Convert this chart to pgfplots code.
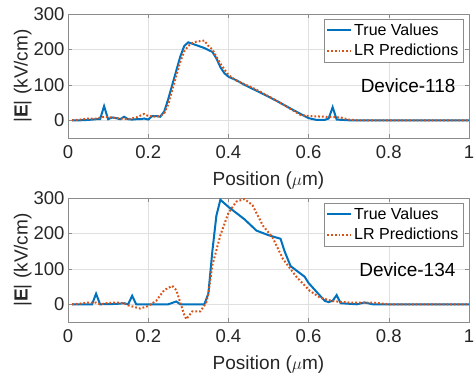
\documentclass[border=0pt]{standalone}
\usepackage{fontspec}
\setmainfont{Liberation Sans}
\usepackage{pgfplots}
\pgfplotsset{compat=1.18}
\definecolor{mblue}{rgb}{0,0.447,0.741}
\definecolor{morange}{rgb}{0.85,0.325,0.098}
\pgfplotsset{myax/.style={
  scale only axis, width=401pt, height=124pt,
  xmin=0, xmax=1, ymin=-50, ymax=300,
  xtick={0,0.2,0.4,0.6,0.8,1},
  ytick={0,100,200,300},
  grid=major, grid style={black!12, line width=0.5pt},
  axis line style={black!45}, tick style={black!45, line width=0.5pt},
  tick align=inside, major tick length=4pt,
  /pgf/number format/assume math mode=true,
  ticklabel style={font=\fontsize{18.5}{18.5}\selectfont, text=black!85},
  xticklabel style={yshift=-4pt},
  label style={font=\fontsize{19}{19}\selectfont, text=black!85},
  xlabel={Position ($\mu$m)},
  ylabel={|\textbf{E}| (kV/cm)},
  xlabel style={yshift=-6pt},
  ylabel style={yshift=-5pt},
  legend style={at={(0.985,0.96)}, anchor=north east, draw=black!45,
    font=\fontsize{16}{16}\selectfont, inner sep=2.5pt, row sep=3.5pt,
    cells={anchor=west}},
  legend image code/.code={\draw[#1] (0pt,0pt) -- (24pt,0pt);},
}}
\begin{document}
\begin{tikzpicture}
\useasboundingbox (0,0) rectangle (474pt,376pt);
\begin{axis}[myax, at={(68pt,238pt)}, anchor=south west]
\addplot[mblue, line width=2pt] coordinates {
(0.01,0) (0.03,0) (0.05,1) (0.07,3) (0.08,3) (0.09,40) (0.1,3) (0.11,8) (0.12,6) (0.13,3) (0.14,10) (0.15,3) (0.16,2) (0.17,3) (0.18,3) (0.19,5) (0.2,2) (0.21,12) (0.22,12) (0.23,10) (0.24,25) (0.25,60) (0.26,100) (0.27,140) (0.28,180) (0.29,210) (0.3,220) (0.32,212) (0.34,204) (0.36,193) (0.37,175) (0.38,150) (0.39,133) (0.4,123) (0.42,113) (0.44,100) (0.48,78) (0.52,55) (0.56,30) (0.58,18) (0.6,6) (0.62,1) (0.64,1) (0.65,5) (0.66,37) (0.67,2) (0.7,0) (1,0)};
\addlegendentry{True Values}
\addplot[morange, line width=2pt, dash pattern=on 1.8pt off 2pt] coordinates {
(0.01,0) (0.03,2) (0.05,5) (0.07,5) (0.09,10) (0.11,8) (0.13,5) (0.15,3) (0.17,8) (0.19,18) (0.2,12) (0.22,10) (0.23,12) (0.24,20) (0.25,45) (0.26,85) (0.27,125) (0.28,165) (0.29,195) (0.3,210) (0.31,218) (0.32,222) (0.34,225) (0.35,210) (0.36,200) (0.38,160) (0.4,128) (0.42,112) (0.46,92) (0.5,68) (0.54,42) (0.58,15) (0.6,12) (0.64,10) (0.68,8) (0.7,2) (0.72,0) (1,0)};
\addlegendentry{LR Predictions}
\node[anchor=east, font=\fontsize{19}{19}\selectfont] at (axis cs:0.975,98) {Device-118};
\end{axis}
\begin{axis}[myax, at={(68pt,54pt)}, anchor=south west]
\addplot[mblue, line width=2pt] coordinates {
(0.01,0) (0.06,0) (0.07,30) (0.08,0) (0.12,1) (0.14,3) (0.15,0) (0.16,24) (0.17,0) (0.2,0) (0.25,0) (0.27,8) (0.28,0) (0.34,0) (0.35,30) (0.36,150) (0.37,250) (0.38,295) (0.4,275) (0.44,240) (0.47,208) (0.5,195) (0.53,185) (0.54,150) (0.555,108) (0.57,95) (0.59,78) (0.6,60) (0.62,35) (0.64,10) (0.65,6) (0.66,10) (0.67,26) (0.68,3) (0.72,0) (0.74,5) (0.76,0) (1,0)};
\addlegendentry{True Values}
\addplot[morange, line width=2pt, dash pattern=on 1.8pt off 2pt] coordinates {
(0.01,0) (0.03,2) (0.05,5) (0.07,5) (0.08,0) (0.1,4) (0.12,5) (0.14,3) (0.15,-3) (0.18,-12) (0.2,-5) (0.22,10) (0.24,40) (0.26,52) (0.27,40) (0.28,5) (0.29,-30) (0.295,-42) (0.31,-20) (0.33,-20) (0.345,5) (0.35,30) (0.36,110) (0.38,195) (0.4,258) (0.42,290) (0.44,297) (0.46,280) (0.486,222) (0.51,189) (0.536,128) (0.57,77) (0.603,38) (0.628,19) (0.66,9) (0.7,5) (0.76,5) (0.8,0) (1,0)};
\addlegendentry{LR Predictions}
\node[anchor=east, font=\fontsize{19}{19}\selectfont] at (axis cs:0.975,99) {Device-134};
\end{axis}
\end{tikzpicture}
\end{document}
